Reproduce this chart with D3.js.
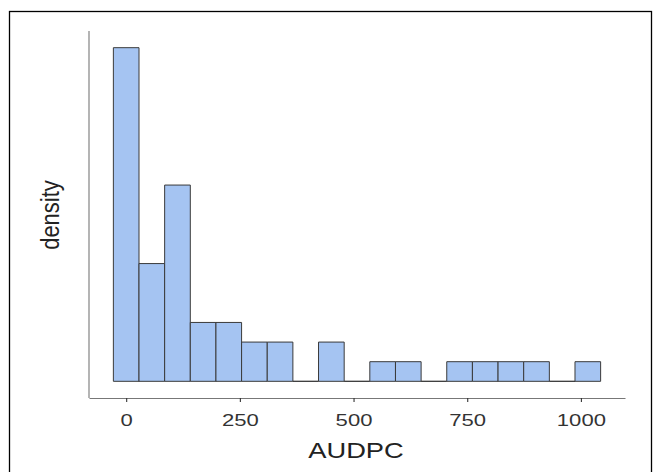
<!DOCTYPE html>
<html>
<head>
<meta charset="utf-8">
<script src="https://cdn.jsdelivr.net/npm/d3@7"></script>
<style>
  body { margin: 0; background: #fff; }
  svg text { font-family: "Liberation Sans", Arial, sans-serif; }
</style>
</head>
<body>
<svg id="svgHist" width="659" height="472"></svg>
<script>
// histogram of AUDPC, bin width ~56.4
let binWidth = 56.4;
let binCenters = [0, 56.4, 112.8, 169.2, 225.6, 282, 338.4, 394.8, 451.2, 507.6, 564, 620.4, 676.8, 733.2, 789.6, 846, 902.4, 958.8, 1015.2];
let counts = [17, 6, 10, 3, 3, 2, 2, 0, 2, 0, 1, 1, 0, 1, 1, 1, 1, 0, 1];
let xTicks = [0, 250, 500, 750, 1000];

function init() {
    let svg = d3.select('#svgHist');
    let total = d3.sum(counts);
    let bins = binCenters.map((c, i) => ({
        x0: c - binWidth / 2,
        x1: c + binWidth / 2,
        density: counts[i] / (total * binWidth)
    }));

    // ggplot style 5% expansion
    let xMin = bins[0].x0, xMax = bins[bins.length - 1].x1;
    let xPad = (xMax - xMin) * 0.05;
    let x = d3.scaleLinear().domain([xMin - xPad, xMax + xPad]).range([89, 625]);
    let yMax = d3.max(bins, d => d.density);
    let y = d3.scaleLinear().domain([-yMax * 0.05, yMax * 1.05]).range([398, 31]);

    // outer frame
    svg.append('rect')
        .attr('x', 9.5).attr('y', 11.5)
        .attr('width', 642).attr('height', 475)
        .style('fill', 'none')
        .style('stroke', '#000')
        .style('stroke-width', 1.3);

    // paths so empty bins still show their outline on the baseline
    svg.append('g').selectAll('path').data(bins).join('path')
        .attr('d', d => {
            let p = d3.path();
            p.moveTo(x(d.x0), y(0));
            p.lineTo(x(d.x0), y(d.density));
            p.lineTo(x(d.x1), y(d.density));
            p.lineTo(x(d.x1), y(0));
            p.closePath();
            return p.toString();
        })
        .style('fill', '#a5c4f2')
        .style('stroke', '#3a3a3a')
        .style('stroke-width', 1);

    // x axis
    let xAxis = svg.append('g')
        .attr('transform', 'translate(0,398)')
        .call(d3.axisBottom(x).tickValues(xTicks).tickSizeInner(4).tickSizeOuter(0).tickFormat(d3.format('d')));
    xAxis.select('.domain').style('stroke', '#777').style('stroke-width', 1.1);
    xAxis.selectAll('.tick line').style('stroke', '#333').style('stroke-width', 1.1);
    xAxis.selectAll('.tick text').remove();
    xAxis.selectAll('.tick').append('text')
        .attr('transform', 'translate(0,28) scale(1.3,1.02)')
        .attr('text-anchor', 'middle')
        .style('font-size', '17px')
        .style('fill', '#333')
        .text(d => d);

    // y axis line only
    svg.append('line')
        .attr('x1', 89).attr('x2', 89)
        .attr('y1', 31).attr('y2', 398)
        .style('stroke', '#777')
        .style('stroke-width', 1.1);

    svg.append('text')
        .attr('transform', 'translate(356,458) scale(1.3,1.03)')
        .attr('text-anchor', 'middle')
        .style('font-size', '21px')
        .style('fill', '#222')
        .text('AUDPC');

    svg.append('text')
        .attr('transform', 'translate(59,215) scale(1.25,1.1) rotate(-90)')
        .attr('text-anchor', 'middle')
        .style('font-size', '20px')
        .style('fill', '#222')
        .text('density');
}

init();
</script>
</body>
</html>
